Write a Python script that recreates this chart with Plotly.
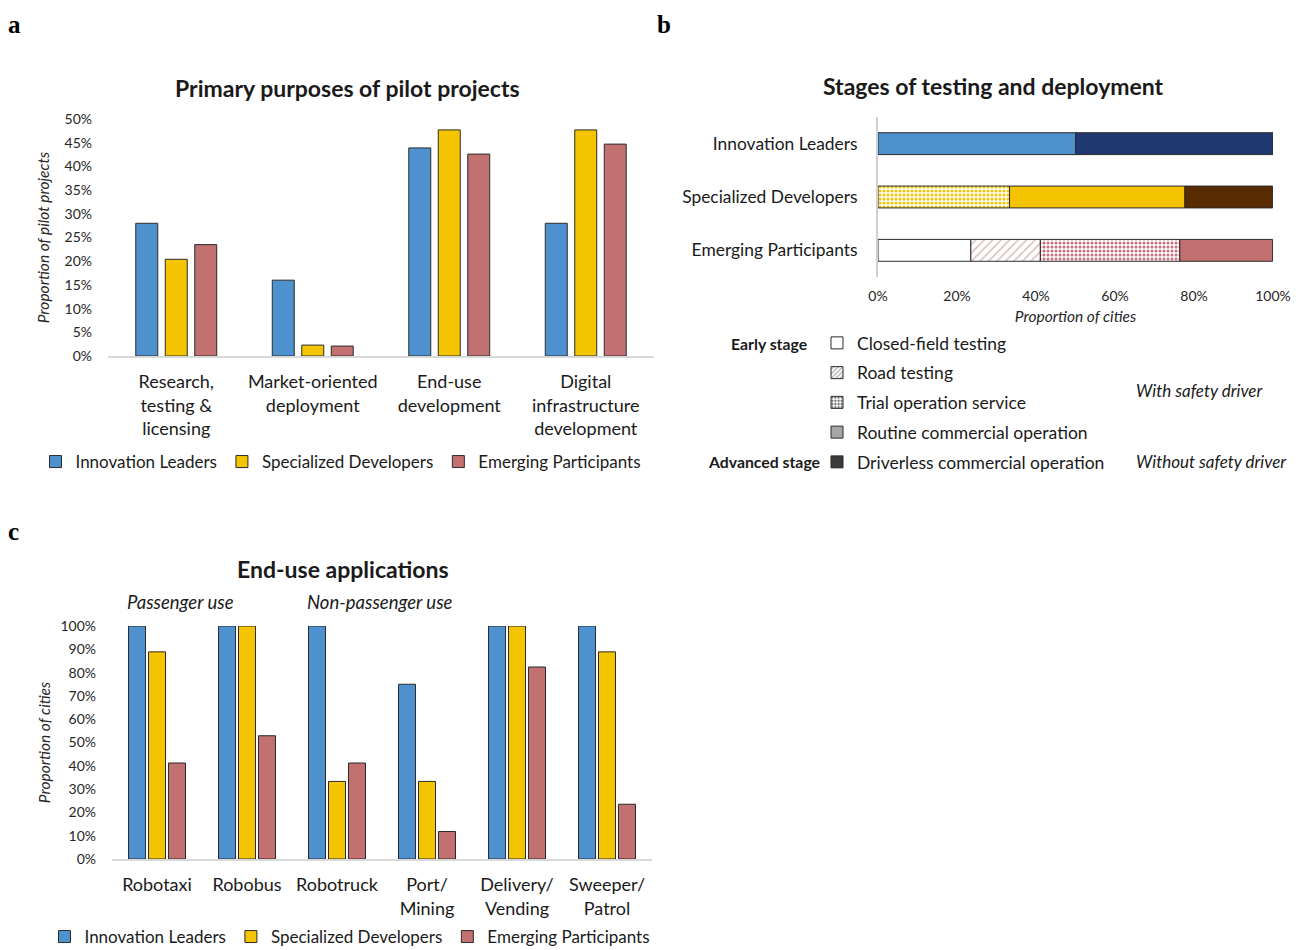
import plotly.graph_objects as go

# page has an 8px body margin; the figure fills the rest of the 1299x950 window
PAGE_W, PAGE_H, M = 1299, 950, 8
W, H = PAGE_W - M, PAGE_H - M
def px(x): return (x - M) / W
def py(y): return 1 - (y - M) / H

FONT = "Lato"

groups = ["Innovation Leaders", "Specialized Developers", "Emerging Participants"]
group_colors = ["#4e91cf", "#f5c400", "#c27070"]

# Panel a: primary purposes of pilot projects (%)
purpose_cats = ["Research,<br>testing &<br>licensing", "Market-oriented<br>deployment",
                "End-use<br>development", "Digital<br>infrastructure<br>development"]
purpose_leaders = [28.0, 16.0, 43.9, 28.0]
purpose_specialized = [20.4, 2.3, 47.7, 47.7]
purpose_emerging = [23.5, 2.1, 42.6, 44.7]

# Panel b: stages of testing and deployment (% of cities)
stage_names = ["Closed-field testing", "Road testing", "Trial operation service",
               "Routine commercial operation", "Driverless commercial operation"]
stage_closed = [0, 0, 23.5]
stage_road = [0, 0, 17.6]
stage_trial = [0, 33.3, 35.3]
stage_routine = [50.0, 44.4, 23.5]
stage_driverless = [50.0, 22.2, 0]

# Panel c: end-use applications (% of cities)
app_cats = ["Robotaxi", "Robobus", "Robotruck", "Port/<br>Mining", "Delivery/<br>Vending", "Sweeper/<br>Patrol"]
app_leaders = [100, 100, 100, 75, 100, 100]
app_specialized = [88.9, 100, 33.3, 33.3, 100, 88.9]
app_emerging = [41.2, 52.9, 41.2, 11.8, 82.4, 23.5]

fig = go.Figure()
LINE = dict(color="#2b2b2b", width=1)

# ---- panel a
a_series = [purpose_leaders, purpose_specialized, purpose_emerging]
wa, sa = 0.161, 0.216
for i, (g, vals, col) in enumerate(zip(groups, a_series, group_colors)):
    fig.add_trace(go.Bar(x=purpose_cats, y=vals, name=g, marker=dict(color=col, line=LINE),
                         width=wa, offset=(i - 1) * sa - wa / 2, xaxis="x", yaxis="y",
                         legend="legend", hoverinfo="y"))

# ---- panel c
c_series = [app_leaders, app_specialized, app_emerging]
wc, sc = 0.189, 0.222
for i, (g, vals, col) in enumerate(zip(groups, c_series, group_colors)):
    fig.add_trace(go.Bar(x=app_cats, y=vals, name=g, marker=dict(color=col, line=LINE),
                         width=wc, offset=(i - 1) * sc - wc / 2, xaxis="x3", yaxis="y3",
                         legend="legend3", hoverinfo="y"))

# ---- panel b (stacked manually, one trace per segment)
stages = [stage_closed, stage_road, stage_trial, stage_routine, stage_driverless]
seg_style = [
    [("white", "", None)] * 3,
    [("white", "/", "#d6bcbc")] * 3,
    [("white", ".", "#f5c400"), ("white", ".", "#f5c400"), ("white", ".", "#c9707a")],
    [("#4e91cf", "", None), ("#f5c400", "", None), ("#c27070", "", None)],
    [("#203870", "", None), ("#582b00", "", None), ("#582b00", "", None)],
]
wb = 0.41
for gi, g in enumerate(groups):
    base = 0.0
    for si, (name, vals) in enumerate(zip(stage_names, stages)):
        v = vals[gi]
        if v > 0:
            col, shp, fg = seg_style[si][gi]
            marker = dict(color=col, line=LINE)
            if shp:
                marker["pattern"] = dict(shape=shp, fgcolor=fg, bgcolor="white",
                                         size=4 if shp == "." else 6,
                                         solidity=0.45 if shp == "." else 0.25,
                                         fillmode="replace")
            fig.add_trace(go.Bar(x=[v], y=[g], base=[base], orientation="h", name=name,
                                 marker=marker, width=wb, offset=-wb / 2,
                                 xaxis="x2", yaxis="y2", showlegend=False, hoverinfo="x"))
        base += v

# legend keys for panel b (grey)
legend_keys = [
    ("white", "", None),
    ("white", "/", "#b0b0b0"),
    ("white", ".", "#707070"),
    ("#a6a6a6", "", None),
    ("#3a3a3a", "", None),
]
for k, (name, (col, shp, fg)) in enumerate(zip(stage_names, legend_keys)):
    marker = dict(color=col, line=dict(color="#2b2b2b", width=1))
    if shp:
        marker["pattern"] = dict(shape=shp, fgcolor=fg, bgcolor="white", size=4,
                                 solidity=0.45, fillmode="replace")
    fig.add_trace(go.Bar(x=[None], y=[None], orientation="h", name=name, legend="legend2",
                         legendgroup=f"g{k}", marker=marker, xaxis="x2", yaxis="y2"))

tickf = dict(family=FONT, size=14, color="#262626")
catf = dict(family=FONT, size=18, color="#1a1a1a")
titf = dict(family=FONT, size=15.5, color="#262626", style="italic")

fig.update_layout(
    width=W, height=H, margin=dict(l=0, r=0, t=0, b=0, autoexpand=False),
    paper_bgcolor="white", plot_bgcolor="white",
    font=dict(family=FONT, color="#1a1a1a"),
    barmode="group",
    xaxis=dict(domain=[px(108), px(654)], anchor="y", showline=True, linecolor="#d9d9d9",
               linewidth=1.5, ticks="", tickfont=catf, ticklabelstandoff=9, showgrid=False,
               automargin=False),
    yaxis=dict(domain=[py(356), py(119)], anchor="x", range=[0, 50], dtick=5, ticksuffix="%",
               showgrid=False, zeroline=False, ticks="", tickfont=tickf, ticklabelstandoff=15,
               automargin=False,
               title=dict(text="Proportion of pilot projects", font=titf, standoff=11)),
    xaxis2=dict(domain=[px(878), px(1273)], anchor="y2", range=[0, 100], dtick=20, ticksuffix="%",
                showgrid=False, zeroline=False, showline=False, ticks="", tickfont=tickf,
                ticklabelstandoff=9, automargin=False,
                title=dict(text="Proportion of cities", font=titf, standoff=8)),
    yaxis2=dict(domain=[py(277), py(117)], anchor="x2", autorange="reversed", showline=True,
                linecolor="#d0d0d0", linewidth=2, ticks="", ticklabelstandoff=15,
                tickfont=dict(family=FONT, size=17.4, color="#1a1a1a"),
                showgrid=False, automargin=False),
    xaxis3=dict(domain=[px(112), px(652)], anchor="y3", showline=True, linecolor="#d9d9d9",
                linewidth=1.5, ticks="", tickfont=catf, ticklabelstandoff=9, showgrid=False,
                automargin=False),
    yaxis3=dict(domain=[py(859), py(626)], anchor="x3", range=[0, 100], dtick=10, ticksuffix="%",
                showgrid=False, zeroline=False, ticks="", tickfont=tickf, ticklabelstandoff=15,
                automargin=False,
                title=dict(text="Proportion of cities", font=titf, standoff=5)),
    legend=dict(orientation="h", x=px(341), xanchor="center", y=py(462), yanchor="middle",
                font=dict(family=FONT, size=17), itemwidth=30, bgcolor="rgba(0,0,0,0)"),
    legend3=dict(orientation="h", x=px(350), xanchor="center", y=py(937), yanchor="middle",
                 font=dict(family=FONT, size=17), itemwidth=30, bgcolor="rgba(0,0,0,0)"),
    legend2=dict(orientation="v", x=px(817), xanchor="left", y=py(325), yanchor="top",
                 font=dict(family=FONT, size=17.5), itemwidth=30, traceorder="grouped",
                 tracegroupgap=4, bgcolor="rgba(0,0,0,0)"),
)

ann = []
def A(text, x, y, size, xanchor="center", bold=False, italic=False, family=FONT,
      color="#1a1a1a", yanchor="middle"):
    ann.append(dict(text=text, x=px(x), y=py(y), xref="paper", yref="paper", xanchor=xanchor,
                    yanchor=yanchor, showarrow=False,
                    font=dict(family=family, size=size, color=color,
                              weight="bold" if bold else "normal",
                              style="italic" if italic else "normal")))

A("a", 6, 8.5, 25, "left", bold=True, family="Liberation Serif", color="black", yanchor="top")
A("b", 655, 8.5, 25, "left", bold=True, family="Liberation Serif", color="black", yanchor="top")
A("c", 6, 531, 25, "left", bold=True, family="Liberation Serif", color="black")
A("Primary purposes of pilot projects", 347, 88, 23, bold=True)
A("Stages of testing and deployment", 993, 86, 23, bold=True)
A("End-use applications", 343, 569, 23, bold=True)
A("Passenger use", 180, 602, 18.5, italic=True)
A("Non-passenger use", 380, 602, 18.5, italic=True)
A("Early stage", 809, 343, 15.8, "right", bold=True)
A("Advanced stage", 822, 461, 15.8, "right", bold=True)
A("With safety driver", 1134, 390, 17, "left", italic=True)
A("Without safety driver", 1134, 461, 17, "left", italic=True)
fig.update_layout(annotations=ann)

fig.write_html("out.html")
